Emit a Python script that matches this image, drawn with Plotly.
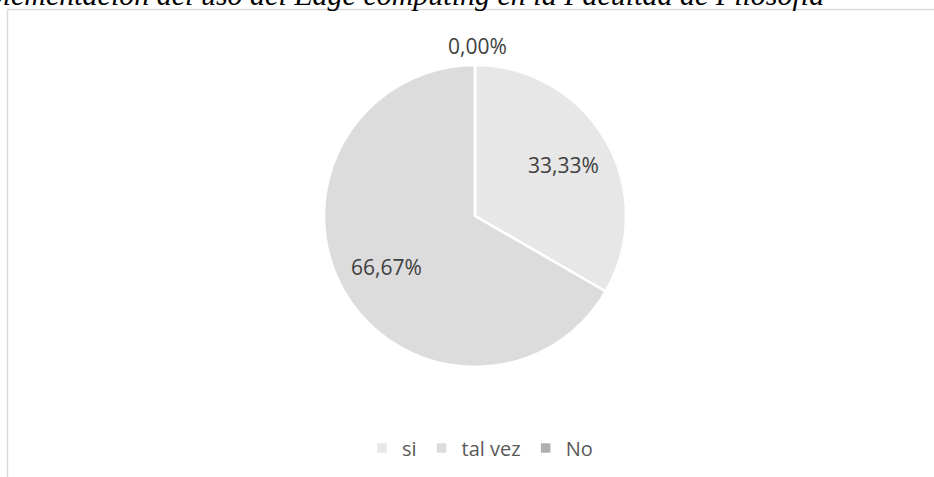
import math
import plotly.graph_objects as go

# Survey answers and their shares (%)
categories = ["si", "tal vez", "No"]
shares = [33.33, 66.67, 0.00]
colors = ["#e7e7e7", "#dcdcdc", "#b0b0b0"]
title_text = "Implementación del uso del Edge computing en la Facultad de Filosofía"

W, H = 934, 477
CX, CY, R = 475, 216, 151  # pie centre and radius in pixels


def pct(v):
    return f"{v:.2f}".replace(".", ",") + "%"


label_font = dict(family="Open Sans", size=21, color="#404040")

fig = go.Figure()
fig.add_trace(go.Pie(
    labels=categories,
    values=shares,
    sort=False,
    direction="clockwise",
    rotation=0,
    marker=dict(colors=colors, line=dict(color="white", width=2.5)),
    textinfo="none",
    domain=dict(x=[(CX - R) / W, (CX + R) / W],
                y=[1 - (CY + R) / H, 1 - (CY - R) / H]),
    showlegend=True,
    hoverinfo="label+percent",
))

# percentage labels placed along each slice's mid-angle
total = sum(shares)
start = 0.0
for cat, v in zip(categories, shares):
    frac = v / total
    mid = (start + frac / 2) * 2 * math.pi
    start += frac
    if v == 0:
        # empty slice: label sits just outside the top of the pie
        px, py = CX + 2, CY - R - 19
    else:
        px = CX + 0.68 * R * math.sin(mid)
        py = CY - 0.68 * R * math.cos(mid)
    fig.add_annotation(
        text=pct(v), x=px / W, y=1 - py / H, xref="paper", yref="paper",
        showarrow=False, xanchor="center", yanchor="middle", font=label_font,
    )

# chart frame
fig.add_shape(type="rect", xref="paper", yref="paper",
              x0=7.5 / W, x1=1.05, y0=-0.05, y1=1 - 9.5 / H,
              line=dict(color="#d9d9d9", width=1.5), fillcolor="rgba(0,0,0,0)")

# caption above the frame
fig.add_annotation(
    text=f"<i>{title_text}</i>", x=826 / W, y=1 - 13 / H, xref="paper", yref="paper",
    showarrow=False, xanchor="right", yanchor="bottom",
    font=dict(family="Liberation Serif", size=30, color="#000000"),
)

fig.update_layout(
    width=W, height=H,
    margin=dict(l=0, r=0, t=0, b=0),
    paper_bgcolor="white", plot_bgcolor="white",
    legend=dict(orientation="h", x=480 / W, xanchor="center",
                y=1 - 448 / H, yanchor="middle",
                font=dict(family="Open Sans", size=20, color="#595959"),
                itemwidth=30, tracegroupgap=0),
)

fig.write_html("out.html")
